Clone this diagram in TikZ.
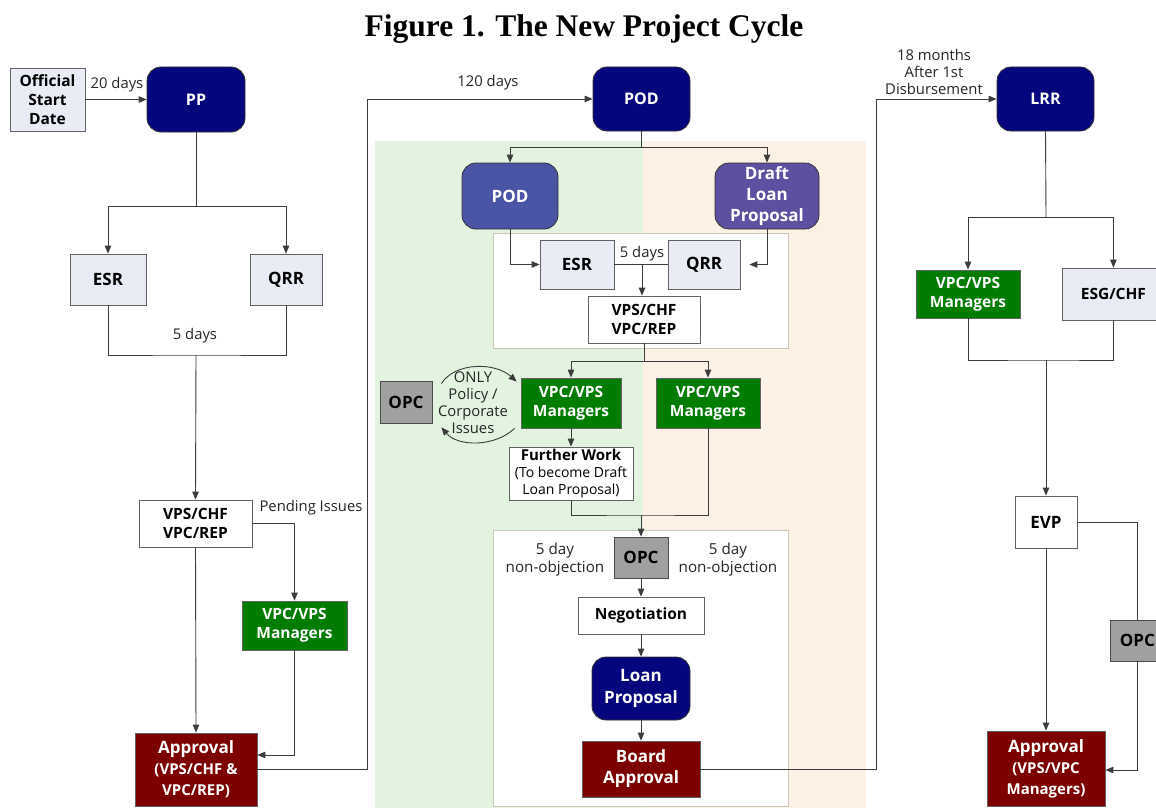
\documentclass[tikz,border=0pt]{standalone}
\usepackage{fontspec}
\setmainfont{Open Sans}
\newfontfamily\titlefont{Liberation Serif}
\usetikzlibrary{arrows.meta,calc}
\definecolor{navy}{RGB}{5,5,125}
\definecolor{podblue}{RGB}{74,84,164}
\definecolor{dlpblue}{RGB}{92,80,160}
\definecolor{mgrgreen}{RGB}{0,125,0}
\definecolor{darkred}{RGB}{125,0,0}
\definecolor{opcgray}{RGB}{160,160,160}
\definecolor{lightbox}{RGB}{233,236,245}
\definecolor{bggreen}{RGB}{226,243,224}
\definecolor{bgorange}{RGB}{253,240,228}
\definecolor{linegray}{RGB}{60,60,60}
\definecolor{framegray}{RGB}{200,200,185}
\tikzset{
  box/.style={draw=linegray!80, line width=0.8pt, inner sep=0pt, align=center,
    font=\fontsize{15.5}{19}\selectfont\bfseries},
  lbox/.style={box, fill=lightbox},
  wbox/.style={box, fill=white},
  gbox/.style={box, fill=mgrgreen, text=white},
  rbox/.style={box, fill=darkred, text=white, font=\fontsize{17}{21}\selectfont\bfseries},
  nbox/.style={box, draw=black!80, rounded corners=14pt, fill=navy, text=white, font=\fontsize{16}{22}\selectfont\bfseries},
  obox/.style={box, fill=opcgray, draw=black!70, font=\fontsize{17}{20}\selectfont\bfseries},
  conn/.style={draw=linegray, line width=0.9pt},
  arr/.style={conn, -{Triangle[length=8pt,width=6.5pt]}},
  lbl/.style={font=\fontsize{14.8}{17}\selectfont, text=black!85, align=center, inner sep=0pt},
}
\begin{document}
\begin{tikzpicture}[x=1pt,y=-1pt]
\useasboundingbox (0,0) rectangle (1156,808);
\clip (0,0) rectangle (1156,808);
\fill[white] (0,0) rectangle (1156,808);
% backgrounds
\fill[bggreen] (375,141) rectangle (643,808);
\fill[bgorange] (643,141) rectangle (866,808);
\draw[framegray, fill=white, line width=0.8pt] (493,233) rectangle (788,348);
\draw[framegray, fill=white, line width=0.8pt] (493,530) rectangle (788,806);
% title
\node[font=\titlefont\bfseries\fontsize{31.5}{34}\selectfont, inner sep=0pt] (title) at (584,29) {Figure 1. The New Project Cycle};
% left column
\node[lbox, minimum width=75pt, minimum height=63pt] (osd) at (47.5,99.5) {Official\\Start\\Date};
\node[nbox, minimum width=98pt, minimum height=65pt] (pp) at (196,99.5) {PP};
\node[lbox, minimum width=76pt, minimum height=51pt, font=\fontsize{17}{20}\selectfont\bfseries] (esr1) at (108,279.5) {ESR};
\node[lbox, minimum width=72pt, minimum height=51pt, font=\fontsize{17}{20}\selectfont\bfseries] (qrr1) at (286,279.5) {QRR};
\node[wbox, minimum width=113pt, minimum height=47pt] (vps1) at (195.5,523.5) {VPS/CHF\\VPC/REP};
\node[gbox, minimum width=105pt, minimum height=49pt] (mgr1) at (294.5,625.5) {VPC/VPS\\Managers};
\node[rbox, minimum width=122pt, minimum height=73pt] (app1) at (196,769.5) {Approval\\{\fontsize{15}{20}\selectfont(VPS/CHF \&}\\{\fontsize{15}{20}\selectfont VPC/REP)}};
% center column
\node[nbox, minimum width=97pt, minimum height=64pt] (pod) at (641.5,99) {POD};
\node[nbox, fill=podblue, minimum width=96pt, minimum height=66pt, font=\fontsize{17}{22}\selectfont\bfseries] (pod2) at (510,196) {POD};
\node[nbox, fill=dlpblue, minimum width=104pt, minimum height=66pt, font=\fontsize{17}{21}\selectfont\bfseries] (dlp) at (767,196) {Draft\\Loan\\Proposal};
\node[lbox, minimum width=74pt, minimum height=49pt, font=\fontsize{17}{20}\selectfont\bfseries] (esr2) at (577,264.5) {ESR};
\node[lbox, minimum width=72pt, minimum height=49pt, font=\fontsize{17}{20}\selectfont\bfseries] (qrr2) at (704,264.5) {QRR};
\node[wbox, minimum width=112pt, minimum height=47pt] (vps2) at (644,319.5) {VPS/CHF\\VPC/REP};
\node[gbox, minimum width=100pt, minimum height=50pt] (mgrL) at (571,403) {VPC/VPS\\Managers};
\node[gbox, minimum width=104pt, minimum height=50pt] (mgrR) at (708,403) {VPC/VPS\\Managers};
\node[obox, minimum width=52pt, minimum height=42pt] (opcL) at (406,402) {OPC};
\node[lbl] (issues) at (473,403) {ONLY\\Policy /\\Corporate\\Issues};
\node[wbox, minimum width=124pt, minimum height=53pt, font=\fontsize{14}{17}\selectfont] (fw) at (571,473.5) {{\fontsize{15}{17}\selectfont\bfseries Further Work}\\(To become Draft\\Loan Proposal)};
\node[obox, minimum width=54pt, minimum height=41pt] (opc2) at (641,557.5) {OPC};
\node[lbl, font=\fontsize{15.2}{18}\selectfont] (nol) at (555,560) {5 day\\non-objection};
\node[lbl, font=\fontsize{15.2}{18}\selectfont] (nor) at (728,560) {5 day\\non-objection};
\node[wbox, minimum width=126pt, minimum height=37pt] (neg) at (641,615.5) {Negotiation};
\node[nbox, minimum width=98pt, minimum height=63pt, font=\fontsize{17}{22}\selectfont\bfseries] (lp) at (641,688.5) {Loan\\Proposal};
\node[rbox, minimum width=118pt, minimum height=56pt] (ba) at (641,769) {Board\\Approval};
% right column
\node[nbox, minimum width=97pt, minimum height=64pt] (lrr) at (1045.5,99) {LRR};
\node[gbox, minimum width=104pt, minimum height=48pt] (mgr3) at (968,294) {VPC/VPS\\Managers};
\node[lbox, minimum width=102pt, minimum height=52pt, anchor=west] (esg) at (1062,294) {ESG/CHF};
\node[wbox, minimum width=62pt, minimum height=52pt, font=\fontsize{17}{20}\selectfont\bfseries] (evp) at (1046,522) {EVP};
\node[obox, minimum width=54pt, minimum height=41pt, anchor=west] (opc3) at (1110,640.5) {OPC};
\node[rbox, minimum width=118pt, minimum height=75pt] (app3) at (1046,768.5) {Approval\\{\fontsize{15}{20}\selectfont(VPS/VPC}\\{\fontsize{15}{20}\selectfont Managers)}};
% labels
\node[lbl] (l20) at (117,85) {20 days};
\node[lbl] (l5a) at (195,336) {5 days};
\node[lbl] (lpend) at (311,508) {Pending Issues};
\node[lbl] (l120) at (488,83) {120 days};
\node[lbl] (l5b) at (642,254) {5 days};
\node[lbl] (l18) at (934,72) {18 months\\After 1st\\Disbursement};
% coordinates
\coordinate (j1) at (196,206);
\coordinate (j2) at (196,355);
\coordinate (j3) at (641.5,147);
\coordinate (j4) at (644,361);
\coordinate (j5) at (641,515);
\coordinate (j6) at (1046,217);
\coordinate (j7) at (1046,360);
\coordinate (c120) at (367,769.5);
\coordinate (c18) at (876,769);
\coordinate (m5) at (642,264.5);
% left connectors
\draw[arr] (osd.east) -- (osd.east -| pp.west);
\draw[conn] (pp.south) -- (j1);
\draw[arr] (j1) -| (esr1.north);
\draw[arr] (j1) -| (qrr1.north);
\draw[conn] (esr1.south) |- (j2) -| (qrr1.south);
\draw[arr] (j2) -- (vps1.north);
\draw[arr] (vps1.east) -| (mgr1.north);
\draw[arr] (vps1.south) -- (app1.north);
\draw[arr] (mgr1.south) |- ([yshift=14.5pt]app1.east);
\draw[arr] (app1.east) -- (c120) |- (pod.west);
% center connectors
\draw[conn] (pod.south) -- (j3);
\draw[arr] (j3) -| (pod2.north);
\draw[arr] (j3) -| (dlp.north);
\draw[arr] (pod2.south) |- (esr2.west);
\draw[arr] (dlp.south) |- ([xshift=9pt]qrr2.east);
\draw[conn] (esr2.east) -- (qrr2.west);
\draw[arr] (m5) -- (m5 |- vps2.north);
\draw[conn] (vps2.south) -- (j4);
\draw[arr] (j4) -| (mgrL.north);
\draw[arr] (j4) -| (mgrR.north);
\draw[arr] (mgrL.south) -- (fw.north);
\draw[conn] (fw.south) |- (j5) -| (mgrR.south);
\draw[arr] (j5) -- (opc2.north);
\draw[arr] (opc2.south) -- (neg.north);
\draw[arr] (neg.south) -- (lp.north);
\draw[arr] (lp.south) -- (ba.north);
\draw[arr] (ba.east) -- (c18) |- (lrr.west);
% curved arrows around OPC
\draw[arr] ($(opcL.north east)+(9,3)$) .. controls (455,362) and (495,362) .. ($(mgrL.north west)+(-4,4)$);
\draw[arr] ($(mgrL.south west)+(-6,0)$) .. controls (495,447) and (458,447) .. ($(opcL.south east)+(9,4)$);
% right connectors
\draw[conn] (lrr.south) -- (j6);
\draw[arr] (j6) -| (mgr3.north);
\draw[arr] (j6) -| (esg.north);
\draw[conn] (mgr3.south) |- (j7) -| (esg.south);
\draw[arr] (j7) -- (evp.north);
\draw[arr] (evp.south) -- (app3.north);
\draw[conn] (evp.east) -| (opc3.north);
\draw[arr] (opc3.south) |- ([yshift=-1.5pt]app3.east);
\end{tikzpicture}
\end{document}
